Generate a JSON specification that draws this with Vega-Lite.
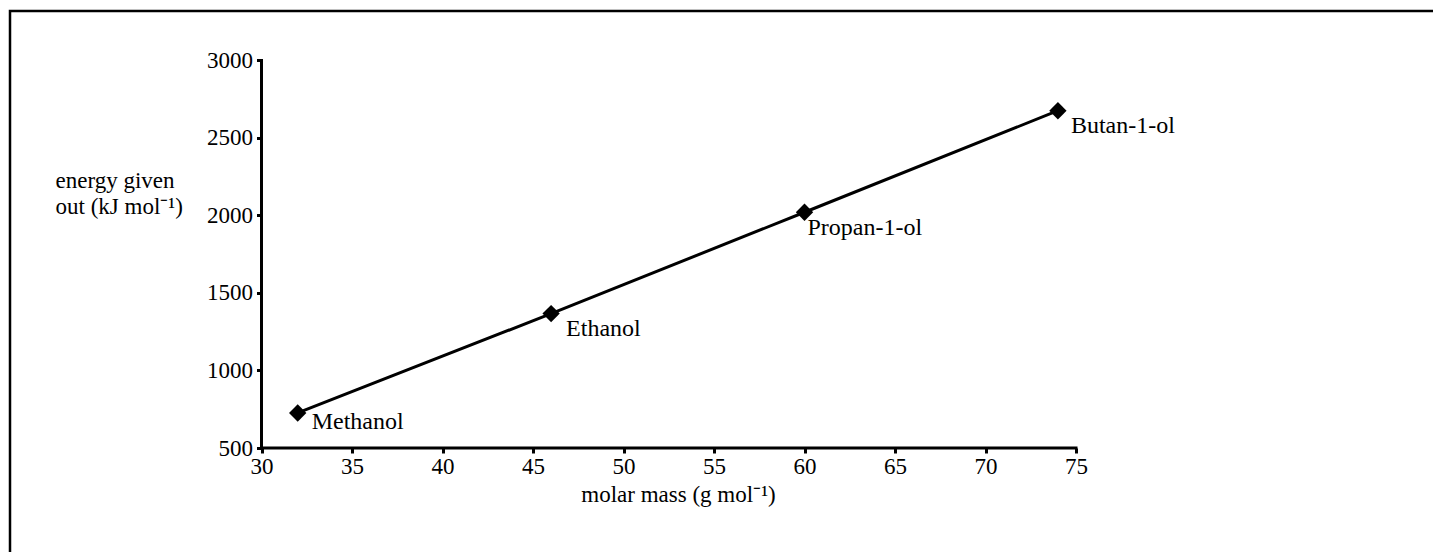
{
  "$schema": "https://vega.github.io/schema/vega-lite/v6.json",
  "width": 1430,
  "height": 550,
  "autosize": {"type": "none"},
  "padding": {"left": 10, "top": 11, "right": 0, "bottom": 0},
  "background": "white",
  "config": {
    "view": {"stroke": "black", "strokeWidth": 2.5},
    "font": "Liberation Serif"
  },
  "data": {
    "values": [
      {"alcohol": "Methanol", "molar_mass": 32, "energy": 726},
      {"alcohol": "Ethanol", "molar_mass": 46, "energy": 1367},
      {"alcohol": "Propan-1-ol", "molar_mass": 60, "energy": 2021},
      {"alcohol": "Butan-1-ol", "molar_mass": 74, "energy": 2676}
    ]
  },
  "encoding": {
    "x": {
      "field": "molar_mass",
      "type": "quantitative",
      "scale": {"domain": [16.105, 95.11], "nice": false, "zero": false},
      "axis": {
        "title": "molar mass (g mol⁻¹)",
        "values": [30, 35, 40, 45, 50, 55, 60, 65, 70, 75],
        "format": "d",
        "domain": false,
        "grid": false,
        "offset": -113,
        "tickSize": 5,
        "tickWidth": 3,
        "tickColor": "black",
        "labelFont": "Liberation Serif",
        "labelFontSize": 23,
        "labelColor": "black",
        "labelPadding": 2,
        "labelFlush": false,
        "labelOverlap": false,
        "titleFont": "Liberation Serif",
        "titleFontSize": 23,
        "titleFontWeight": "normal",
        "titleColor": "black",
        "titleAlign": "center",
        "titleBaseline": "alphabetic",
        "titleX": 668,
        "titleY": 53
      }
    },
    "y": {
      "field": "energy",
      "type": "quantitative",
      "scale": {"domain": [-229.03, 3319.35], "nice": false, "zero": false},
      "axis": {
        "title": ["energy given", "out (kJ mol⁻¹)"],
        "values": [500, 1000, 1500, 2000, 2500, 3000],
        "format": "d",
        "domain": false,
        "grid": false,
        "offset": -251.5,
        "tickSize": 5,
        "tickWidth": 3,
        "tickColor": "black",
        "labelFont": "Liberation Serif",
        "labelFontSize": 23,
        "labelColor": "black",
        "labelPadding": 4,
        "labelOverlap": false,
        "titleFont": "Liberation Serif",
        "titleFontSize": 23,
        "titleFontWeight": "normal",
        "titleColor": "black",
        "titleAngle": 0,
        "titleAlign": "left",
        "titleBaseline": "alphabetic",
        "titleLineHeight": 26,
        "titleX": -206.5,
        "titleY": 176
      }
    }
  },
  "layer": [
    {
      "transform": [{"filter": "datum.alcohol === 'Methanol'"}],
      "mark": {"type": "rule", "color": "black", "strokeWidth": 3, "strokeCap": "square"},
      "encoding": {
        "x": {"datum": 30, "type": "quantitative"},
        "y": {"datum": 500, "type": "quantitative"},
        "y2": {"datum": 3000}
      }
    },
    {
      "transform": [{"filter": "datum.alcohol === 'Methanol'"}],
      "mark": {"type": "rule", "color": "black", "strokeWidth": 3, "strokeCap": "square"},
      "encoding": {
        "y": {"datum": 500, "type": "quantitative"},
        "x": {"datum": 30, "type": "quantitative"},
        "x2": {"datum": 75}
      }
    },
    {
      "mark": {"type": "line", "color": "black", "strokeWidth": 3}
    },
    {
      "mark": {"type": "point", "shape": "diamond", "filled": true, "size": 300, "color": "black", "opacity": 1}
    },
    {
      "transform": [{"filter": "datum.alcohol === 'Methanol'"}],
      "mark": {"type": "text", "align": "left", "baseline": "alphabetic", "dx": 14, "dy": 16, "fontSize": 24, "font": "Liberation Serif", "color": "black"},
      "encoding": {"text": {"field": "alcohol"}}
    },
    {
      "transform": [{"filter": "datum.alcohol === 'Ethanol'"}],
      "mark": {"type": "text", "align": "left", "baseline": "alphabetic", "dx": 15, "dy": 22, "fontSize": 24, "font": "Liberation Serif", "color": "black"},
      "encoding": {"text": {"field": "alcohol"}}
    },
    {
      "transform": [{"filter": "datum.alcohol === 'Propan-1-ol'"}],
      "mark": {"type": "text", "align": "left", "baseline": "alphabetic", "dx": 3, "dy": 23, "fontSize": 24, "font": "Liberation Serif", "color": "black"},
      "encoding": {"text": {"field": "alcohol"}}
    },
    {
      "transform": [{"filter": "datum.alcohol === 'Butan-1-ol'"}],
      "mark": {"type": "text", "align": "left", "baseline": "alphabetic", "dx": 13, "dy": 22, "fontSize": 24, "font": "Liberation Serif", "color": "black"},
      "encoding": {"text": {"field": "alcohol"}}
    }
  ]
}
